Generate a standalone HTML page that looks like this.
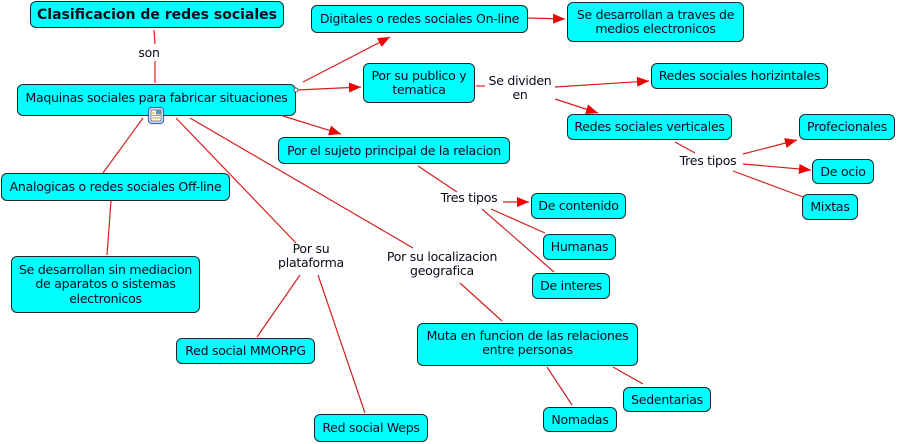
<!DOCTYPE html>
<html><head><meta charset="utf-8"><style>
html,body{margin:0;padding:0;background:#fff;}
body{width:897px;height:444px;position:relative;overflow:hidden;font-family:"DejaVu Sans","Liberation Sans",sans-serif;font-size:12.5px;letter-spacing:-0.25px;color:#0a0a1a;}
.n{position:absolute;box-sizing:border-box;background:#00ffff;border:1px solid #1e2a2a;border-radius:6px;display:flex;align-items:center;justify-content:center;text-align:center;line-height:14px;white-space:nowrap;}
.l{position:absolute;text-align:center;line-height:14px;white-space:nowrap;transform:translate(-50%,-50%);background:transparent;}
svg{position:absolute;left:0;top:0;}
</style></head><body>
<svg width="897" height="444" viewBox="0 0 897 444">
<defs>
<marker id="a" markerUnits="userSpaceOnUse" markerWidth="12" markerHeight="10" refX="12" refY="5" orient="auto">
<path d="M0,0 L12,5 L0,10 z" fill="#ee0000"/>
</marker>
</defs>
<g stroke="#d42020" stroke-width="1.2" fill="none">
<line x1="154" y1="30" x2="155" y2="44"/>
<line x1="155" y1="61" x2="155" y2="83"/>
<line x1="303" y1="82" x2="390" y2="37" marker-end="url(#a)"/>
<line x1="297" y1="90" x2="361" y2="87" marker-end="url(#a)"/>
<line x1="283" y1="116" x2="341" y2="134" marker-end="url(#a)"/>
<line x1="528" y1="18" x2="565" y2="19" marker-end="url(#a)"/>
<line x1="476" y1="86" x2="485" y2="86"/>
<line x1="555" y1="87" x2="649" y2="81" marker-end="url(#a)"/>
<line x1="555" y1="99" x2="598" y2="113" marker-end="url(#a)"/>
<line x1="675" y1="142" x2="695" y2="153"/>
<line x1="743" y1="154" x2="797" y2="140" marker-end="url(#a)"/>
<line x1="743" y1="164" x2="811" y2="170" marker-end="url(#a)"/>
<line x1="733" y1="171" x2="803" y2="197"/>
<line x1="418" y1="166" x2="457" y2="192"/>
<line x1="503" y1="202" x2="529" y2="202" marker-end="url(#a)"/>
<line x1="491" y1="209" x2="545" y2="233"/>
<line x1="482" y1="209" x2="554" y2="272"/>
<line x1="143" y1="118" x2="103" y2="173"/>
<line x1="111" y1="201" x2="107" y2="255"/>
<line x1="176" y1="118" x2="296" y2="243"/>
<line x1="300" y1="275" x2="257" y2="337"/>
<line x1="318" y1="275" x2="365" y2="413"/>
<line x1="190" y1="118" x2="413" y2="248"/>
<line x1="460" y1="283" x2="502" y2="321"/>
<line x1="547" y1="367" x2="572" y2="405"/>
<line x1="613" y1="367" x2="643" y2="384"/>
</g>
</svg>

<div class="n" style="left:30px;top:1px;width:254px;height:27px;font-weight:bold;font-size:14px;letter-spacing:0;">Clasificacion de redes sociales</div>
<div class="n" style="left:17px;top:84px;width:279px;height:32px;padding-bottom:4px;">Maquinas sociales para fabricar situaciones</div>
<div class="n" style="left:311px;top:5px;width:217px;height:28px;">Digitales o redes sociales On-line</div>
<div class="n" style="left:567px;top:2px;width:177px;height:40px;">Se desarrollan a traves de<br>medios electronicos</div>
<div class="n" style="left:363px;top:63px;width:112px;height:40px;">Por su publico y<br>tematica</div>
<div class="n" style="left:651px;top:63px;width:177px;height:26px;">Redes sociales horizintales</div>
<div class="n" style="left:567px;top:114px;width:165px;height:26px;">Redes sociales verticales</div>
<div class="n" style="left:799px;top:114px;width:96px;height:26px;">Profecionales</div>
<div class="n" style="left:812px;top:159px;width:62px;height:25px;">De ocio</div>
<div class="n" style="left:802px;top:194px;width:56px;height:26px;">Mixtas</div>
<div class="n" style="left:278px;top:137px;width:232px;height:27px;">Por el sujeto principal de la relacion</div>
<div class="n" style="left:531px;top:193px;width:95px;height:26px;">De contenido</div>
<div class="n" style="left:543px;top:234px;width:73px;height:26px;">Humanas</div>
<div class="n" style="left:532px;top:273px;width:78px;height:26px;">De interes</div>
<div class="n" style="left:1px;top:173px;width:229px;height:28px;">Analogicas o redes sociales Off-line</div>
<div class="n" style="left:11px;top:256px;width:189px;height:57px;line-height:14.5px;">Se desarrollan sin mediacion<br>de aparatos o sistemas<br>electronicos</div>
<div class="n" style="left:176px;top:338px;width:139px;height:26px;">Red social MMORPG</div>
<div class="n" style="left:314px;top:414px;width:114px;height:28px;">Red social Weps</div>
<div class="n" style="left:417px;top:323px;width:221px;height:43px;padding-bottom:3px;">Muta en funcion de las relaciones<br>entre personas</div>
<div class="n" style="left:623px;top:387px;width:88px;height:25px;">Sedentarias</div>
<div class="n" style="left:543px;top:407px;width:74px;height:25px;">Nomadas</div>

<div class="l" style="left:149px;top:53px;">son</div>
<div class="l" style="left:520px;top:88px;">Se dividen<br>en</div>
<div class="l" style="left:708px;top:161px;">Tres tipos</div>
<div class="l" style="left:469px;top:198px;">Tres tipos</div>
<div class="l" style="left:442px;top:264px;">Por su localizacion<br>geografica</div>
<div class="l" style="left:311px;top:256px;">Por su<br>plataforma</div>

<svg width="897" height="444" viewBox="0 0 897 444" style="pointer-events:none">
<circle cx="296" cy="90" r="2" fill="#fff" stroke="#333" stroke-width="0.8"/>
<rect x="148.5" y="107.5" width="15" height="16" rx="3" fill="#dde8ff" stroke="#3a66c4" stroke-width="1.2"/>
<rect x="151" y="110" width="10" height="11" fill="#fff" stroke="#333" stroke-width="0.6"/>
<rect x="156" y="110.5" width="4.5" height="4" fill="#6a8fc0"/>
<line x1="152" y1="113" x2="155" y2="113" stroke="#c9a400" stroke-width="1"/>
<line x1="152" y1="115.5" x2="160" y2="115.5" stroke="#c9a400" stroke-width="1"/>
<line x1="152" y1="118" x2="160" y2="118" stroke="#c9a400" stroke-width="1"/>
</svg>
</body></html>
